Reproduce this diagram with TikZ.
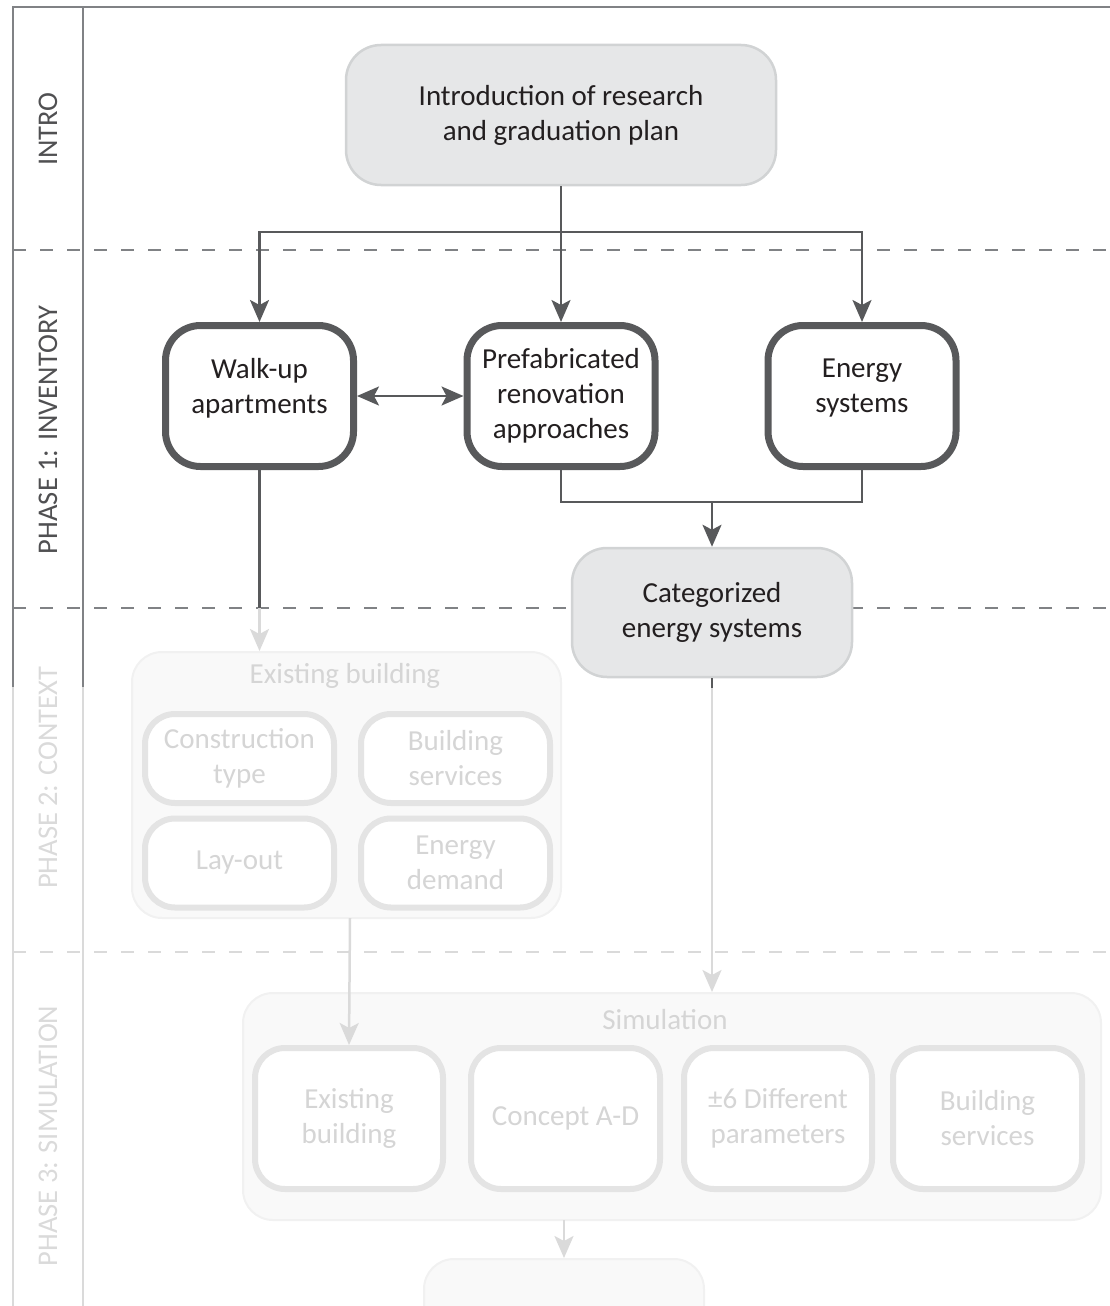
\documentclass[tikz,border=0pt]{standalone}
\usepackage{fontspec}
\setmainfont{Carlito}
\usetikzlibrary{arrows.meta}
\definecolor{ink}{HTML}{231F20}
\definecolor{darkline}{HTML}{58595B}
\definecolor{frameline}{HTML}{808285}
\definecolor{boxfill}{HTML}{E6E7E8}
\definecolor{boxedge}{HTML}{D1D3D4}
\definecolor{fadetext}{HTML}{D5D5D5}
\definecolor{fadeedge}{HTML}{E4E4E4}
\definecolor{fadeline}{HTML}{DADADA}
\definecolor{groupfill}{HTML}{F9F9F9}
\definecolor{groupedge}{HTML}{F1F1F1}
\definecolor{labelgray}{HTML}{505052}
\definecolor{fadelabel}{HTML}{DADADA}
\tikzset{
  head/.tip={Stealth[length=22pt,width=19pt,inset=5pt]},
  txt/.style={font=\fontsize{29}{35}\selectfont, align=center, text=ink, inner sep=0pt},
  graybox/.style={txt, draw=boxedge, line width=2.5pt, fill=boxfill, rounded corners=35pt},
  darkbox/.style={txt, draw=darkline, line width=7pt, fill=white, rounded corners=35pt,
    minimum width=188pt, minimum height=141pt},
  fadebox/.style={txt, text=fadetext, draw=fadeedge, line width=6pt, fill=white, rounded corners=30pt},
  groupbox/.style={draw=groupedge, line width=2pt, fill=groupfill, rounded corners=30pt, inner sep=0pt},
  grouptitle/.style={txt, text=fadetext},
  raisedtext/.style={label={[txt, yshift=8pt]center:#1}},
  phaselabel/.style={font=\fontsize{28.5}{33}\selectfont, rotate=90, inner sep=0pt},
  link/.style={draw=darkline, line width=2.5pt},
  arr/.style={link, -head},
  fadelink/.style={draw=fadeline, line width=2.5pt},
  fadearr/.style={fadelink, -head},
  sep/.style={draw=frameline, line width=2.5pt, dash pattern=on 13pt off 14pt},
  fadesep/.style={draw=fadeline, line width=2.5pt, dash pattern=on 13pt off 14pt},
}
\begin{document}
\begin{tikzpicture}[x=1pt, y=-1pt]
\useasboundingbox (0,0) rectangle (1110,1306);
\clip (0,0) rectangle (1110,1306);

% phase frame
\draw[frameline, line width=2pt] (1110,7) -- (13,7) -- (13,687);
\draw[frameline, line width=2pt] (83,7) -- (83,687);
\draw[fadeline, line width=2pt] (13,687) -- (13,1306);
\draw[fadeline, line width=2pt] (83,687) -- (83,1306);
\draw[sep] (13,250) -- (1110,250);
\draw[sep] (13,608) -- (1110,608);
\draw[fadesep] (13,952) -- (1110,952);

\node[phaselabel, text=labelgray] (lintro) at (48,129) {INTRO};
\node[phaselabel, text=labelgray] (lphase1) at (48,430) {PHASE 1: INVENTORY};
\node[phaselabel, text=fadelabel] (lphase2) at (48,778) {PHASE 2: CONTEXT};
\node[phaselabel, text=fadelabel] (lphase3) at (48,1136) {PHASE 3: SIMULATION};

% intro and phase 1
\node[graybox, minimum width=430pt, minimum height=140pt] (intro) at (561,115)
  {Introduction of research\\and graduation plan};
\node[darkbox, raisedtext={Walk-up\\apartments}] (walk) at (259.5,396) {};
\node[darkbox] (prefab) at (561,396) {Prefabricated\\renovation\\approaches};
\node[darkbox, raisedtext={Energy\\systems}] (energy) at (862,396) {};
\node[graybox, minimum width=280pt, minimum height=129pt] (cat) at (712,612.5)
  {Categorized\\energy systems};

\coordinate (split) at (561,232);
\coordinate (merge) at (712,502);
\draw[arr] (intro.south) -- (prefab.north);
\draw[arr] (split) -| (walk.north);
\draw[arr] (split) -| (energy.north);
\draw[link, head-head] (walk.east) -- (prefab.west);
\draw[link] (prefab.south) |- (merge) -| (energy.south);
\draw[arr] (merge) -- (cat.north);

% phase 2
\node[groupbox, minimum width=429pt, minimum height=266pt] (exgroup) at (346.5,785) {};
\node[grouptitle] (extitle) at (345,676) {Existing building};
\node[fadebox, minimum width=189pt, minimum height=89pt] (constr) at (239.5,758.5) {Construction\\type};
\node[fadebox, minimum width=189pt, minimum height=89pt] (bserv) at (455.5,758.5) {Building\\services};
\node[fadebox, minimum width=189pt, minimum height=89pt] (layout) at (239.5,863) {Lay-out};
\node[fadebox, minimum width=189pt, minimum height=89pt] (edemand) at (455.5,863) {Energy\\demand};

% phase 3
\node[groupbox, minimum width=858pt, minimum height=227pt] (simgroup) at (672,1106.5) {};
\node[grouptitle] (simtitle) at (665,1020) {Simulation};
\node[fadebox, minimum width=188pt, minimum height=141pt] (simex) at (349,1118.5) {Existing\\building};
\node[fadebox, minimum width=189pt, minimum height=141pt] (concept) at (565.5,1118.5) {Concept A-D};
\node[fadebox, minimum width=188pt, minimum height=141pt] (params) at (778,1118.5) {±6 Different\\parameters};
\node[fadebox, minimum width=189pt, minimum height=141pt] (simserv) at (987.5,1118.5) {Building\\services};
\node[groupbox, minimum width=280pt, minimum height=120pt, anchor=north] (result) at (564,1258) {};

% connectors into the later phases
\coordinate (walkcut) at (259.5,608);
\coordinate (catcut) at (712,688);
\draw[link] (walk.south) -- (walkcut);
\draw[fadearr] (walkcut) -- (walkcut |- exgroup.north);
\draw[link] (cat.south) -- (catcut);
\draw[fadearr] (catcut) -- (catcut |- simgroup.north);
\coordinate (exout) at (350,918);
\draw[fadearr] (exout) -- (simex.north);
\coordinate (simout) at (564,1220);
\draw[fadearr] (simout) -- (result.north);
\end{tikzpicture}
\end{document}
